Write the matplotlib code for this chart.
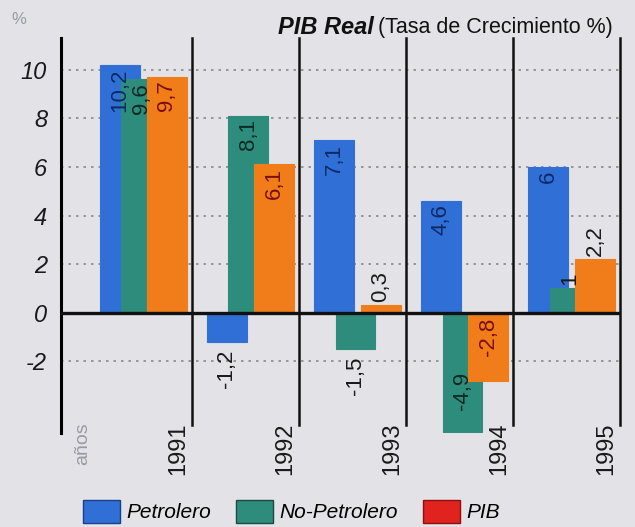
import matplotlib
matplotlib.use("Agg")
import matplotlib.pyplot as plt
import matplotlib.transforms as mtransforms
from matplotlib.patches import Patch

# Data — PIB real, tasa de crecimiento (%)
years = ["1991", "1992", "1993", "1994", "1995"]
petrolero = [10.2, -1.2, 7.1, 4.6, 6.0]
no_petrolero = [9.6, 8.1, -1.5, -4.9, 1.0]
pib = [9.7, 6.1, 0.3, -2.8, 2.2]
y_ticks = [-2, 0, 2, 4, 6, 8, 10]

BG = "#E3E3E7"
BLUE = "#2F6FD6"
TEAL = "#2E8C7C"
ORANGE = "#F07D1A"
RED = "#E0231E"

plt.rcParams.update({"font.family": ["Liberation Sans", "DejaVu Sans"]})

fig = plt.figure(figsize=(6.35, 5.27), dpi=100, facecolor=BG)
ax = fig.add_axes([0.096, 0.178, 0.880, 0.750], facecolor=BG)

x = list(range(len(years)))
width = 0.37
series = [
    ("Petrolero", petrolero, BLUE, -0.17, "#0B2A66"),
    ("No-Petrolero", no_petrolero, TEAL, 0.03, "#0E2A24"),
    ("PIB", pib, ORANGE, 0.27, "#7A0E08"),
]


def fmt(v):
    s = f"{v:.1f}".replace(".", ",")
    return s[:-2] if s.endswith(",0") else s


LBL = 16
for z, (name, vals, col, off, tcol) in enumerate(series):
    xs = [i + off for i in x]
    ax.bar(xs, vals, width=width, color=col, edgecolor=col, linewidth=0.8,
           zorder=2 + z)
    for xi, v in zip(xs, vals):
        if v > 3:
            ax.text(xi, v - 0.15, fmt(v), rotation=90, ha="center", va="top",
                    fontsize=LBL, color=tcol, zorder=10)
        elif v > 0:
            ax.text(xi, v + 0.15, fmt(v), rotation=90, ha="center", va="bottom",
                    fontsize=LBL, color="#1A1A1A", zorder=10)
        elif v > -2:
            ax.text(xi, v - 0.3, fmt(v), rotation=90, ha="center", va="top",
                    fontsize=LBL, color="#1A1A1A", zorder=10)
        elif v > -4:
            ax.text(xi, -0.2, fmt(v), rotation=90, ha="center", va="top",
                    fontsize=LBL, color=tcol, zorder=10)
        else:
            ax.text(xi, v + 0.9, fmt(v), rotation=90, ha="center", va="bottom",
                    fontsize=LBL, color=tcol, zorder=10)

ax.set_xlim(-0.72, 4.5)
ax.set_ylim(-4.95, 11.3)
ax.set_yticks(y_ticks)
ax.set_yticklabels([str(t) for t in y_ticks], fontsize=17, style="italic",
                   color="#1A1A1A")
ax.tick_params(axis="y", length=0, pad=10)
ax.set_xticks([])
ax.yaxis.grid(True, ls=(0, (1.5, 3)), color="#8A8A8A", lw=1.2, zorder=1)
for s in ["top", "right", "bottom"]:
    ax.spines[s].set_visible(False)
ax.spines["left"].set_linewidth(2.2)
ax.axhline(0, color="#111111", lw=2.4, zorder=8)

# separators between years + rotated year labels
trans = mtransforms.blended_transform_factory(ax.transData, ax.transAxes)
for i, yr in enumerate(years):
    sep = i + 0.5
    ax.plot([sep, sep], [0.02, 1.0], transform=trans, color="#111111",
            lw=1.8, zorder=9, clip_on=False)
    ax.text(sep - 0.02, 0.028, yr, transform=trans, rotation=90, ha="right",
            va="top", fontsize=17, color="#1A1A1A")
ax.text(-0.6, 0.028, "años", transform=trans, rotation=90, ha="left",
        va="top", fontsize=14, color="#9A9AA4")

fig.text(0.018, 0.978, "%", fontsize=12, color="#9A9AA4", va="top")

# title: bold italic part + regular part, right aligned
t2 = fig.text(0.965, 0.947, "(Tasa de Crecimiento %)", fontsize=15.5,
              ha="right", va="center", color="#111111")
fig.canvas.draw()
bb = t2.get_window_extent()
fx = bb.x0 / fig.bbox.width
fig.text(fx - 0.006, 0.947, "PIB Real", fontsize=17, weight="bold",
         style="italic", ha="right", va="center", color="#111111")

handles = [Patch(facecolor=BLUE, edgecolor="#1A3E8A"),
           Patch(facecolor=TEAL, edgecolor="#1A4A40"),
           Patch(facecolor=RED, edgecolor="#8A1010")]
fig.legend(handles, ["Petrolero", "No-Petrolero", "PIB"], loc="center",
           bbox_to_anchor=(0.459, 0.030), ncol=3, frameon=False,
           prop={"size": 15, "style": "italic"}, handlelength=1.78,
           handleheight=1.3, columnspacing=1.2, handletextpad=0.3)

fig.savefig("out.png", dpi=100, facecolor=BG)
